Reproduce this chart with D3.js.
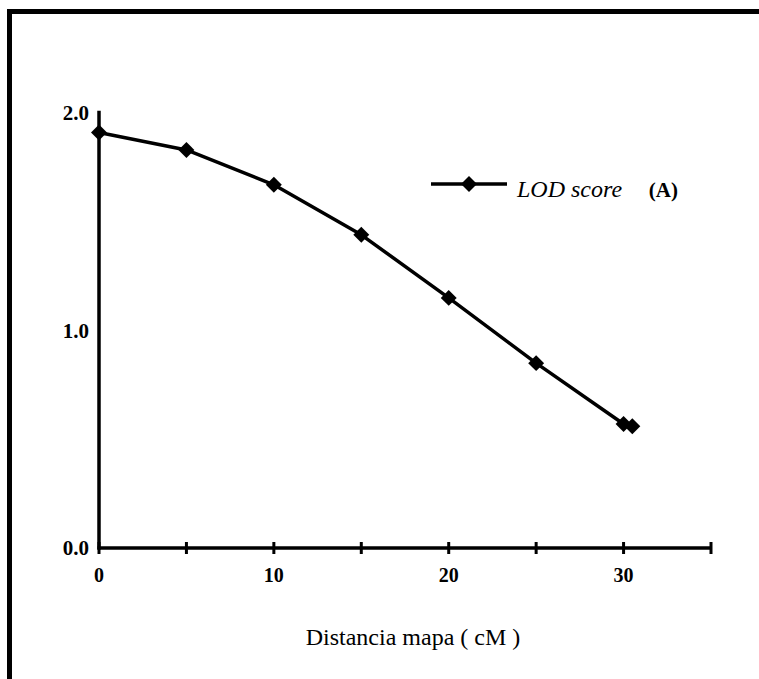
<!DOCTYPE html>
<html>
<head>
<meta charset="utf-8">
<script src="https://cdn.jsdelivr.net/npm/d3@7"></script>
<style>
  html, body { margin: 0; padding: 0; background: #fff; }
  svg { display: block; }
  svg text { font-family: "Liberation Serif", "Times New Roman", Times, serif; }
</style>
</head>
<body>
<svg id="chart" width="759" height="679"></svg>
<script>
// Data
const distances = [0, 5, 10, 15, 20, 25, 30, 30.5];
const lodScores = [1.91, 1.83, 1.67, 1.44, 1.15, 0.85, 0.57, 0.56];
const xTicks = [0, 5, 10, 15, 20, 25, 30, 35];
const xTickLabels = ["0", "", "10", "", "20", "", "30", ""];
const yTicks = [0, 1, 2];
const yTickLabels = ["0.0", "1.0", "2.0"];
const seriesName = "LOD score";
const seriesTag = "(A)";
const xTitle = "Distancia mapa ( cM )";

const svg = d3.select("#chart");

// Frame (open to the right and bottom)
svg.append("rect")
  .attr("x", 9.5).attr("y", 11.5)
  .attr("width", 800).attr("height", 800)
  .attr("fill", "none").attr("stroke", "#000").attr("stroke-width", 5);

const x = d3.scaleLinear().domain([0, 35]).range([99, 711]);
const y = d3.scaleLinear().domain([0, 2]).range([548, 113]);

// Y axis line
svg.append("line")
  .attr("x1", x(0)).attr("x2", x(0))
  .attr("y1", y(2.01)).attr("y2", y(0) + 1.5)
  .attr("stroke", "#000").attr("stroke-width", 3.5);

// X axis line
svg.append("line")
  .attr("x1", x(0) - 1.5).attr("x2", x(35))
  .attr("y1", y(0)).attr("y2", y(0))
  .attr("stroke", "#000").attr("stroke-width", 3.5);

// X ticks
svg.selectAll(".xtick").data(xTicks).enter().append("line")
  .attr("x1", d => x(d)).attr("x2", d => x(d))
  .attr("y1", y(0) - 6).attr("y2", y(0) + 6)
  .attr("stroke", "#000").attr("stroke-width", 3);

// X tick labels
svg.selectAll(".xlab").data(xTicks).enter().append("text")
  .attr("x", d => x(d)).attr("y", y(0) + 34)
  .attr("text-anchor", "middle")
  .attr("font-weight", "bold").attr("font-size", 20)
  .text((d, i) => xTickLabels[i]);

// Y tick labels
svg.selectAll(".ylab").data(yTicks).enter().append("text")
  .attr("x", x(0) - 10).attr("y", d => y(d) + 7)
  .attr("text-anchor", "end")
  .attr("font-weight", "bold").attr("font-size", 21)
  .text((d, i) => yTickLabels[i]);

// Line
const pts = distances.map((d, i) => [d, lodScores[i]]);
svg.append("path")
  .datum(pts)
  .attr("d", d3.line().x(d => x(d[0])).y(d => y(d[1])))
  .attr("fill", "none").attr("stroke", "#000").attr("stroke-width", 3.5)
  .attr("stroke-linejoin", "round");

// Markers
const diamond = d3.symbol().type(d3.symbolDiamond2).size(162);
svg.selectAll(".mk").data(pts).enter().append("path")
  .attr("d", diamond)
  .attr("transform", d => `translate(${x(d[0])},${y(d[1])})`)
  .attr("fill", "#000");

// Legend
const lg = svg.append("g");
lg.append("line").attr("x1", 431).attr("x2", 507).attr("y1", 184).attr("y2", 184)
  .attr("stroke", "#000").attr("stroke-width", 3.5);
lg.append("path").attr("d", diamond).attr("transform", "translate(469,184)").attr("fill", "#000");
lg.append("text").attr("x", 517).attr("y", 197)
  .attr("font-size", 24).attr("font-style", "italic").text(seriesName);
lg.append("text").attr("x", 678).attr("y", 197).attr("text-anchor", "end")
  .attr("font-size", 21).attr("font-weight", "bold").text(seriesTag);

// X title
svg.append("text")
  .attr("x", 413).attr("y", 645)
  .attr("text-anchor", "middle")
  .attr("font-size", 24)
  .text(xTitle);
</script>
</body>
</html>
